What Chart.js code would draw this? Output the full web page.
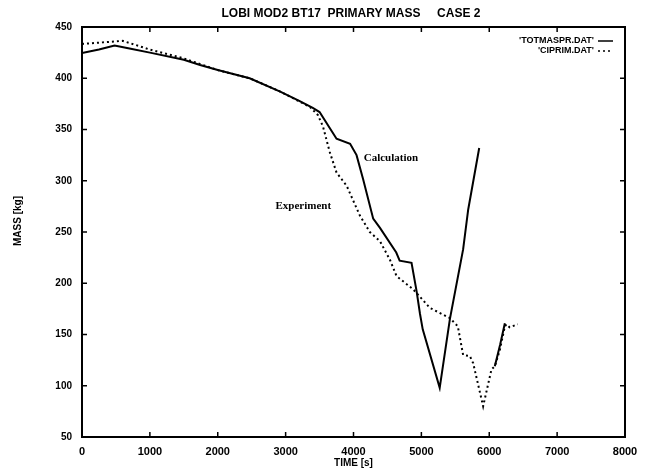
<!DOCTYPE html>
<html>
<head>
<meta charset="utf-8">
<title>LOBI MOD2 BT17 primary mass</title>
<script src="https://cdn.jsdelivr.net/npm/chart.js@4"></script>
<style>
  html, body { margin: 0; padding: 0; background: #fff; }
  #wrap { width: 652px; height: 471px; position: relative; }
</style>
</head>
<body>
<div id="wrap"><canvas id="massChart"></canvas></div>
<script>
/* Data */
const calcTime = [0, 250, 480, 700, 1000, 1500, 1740, 2000, 2470, 2920, 3200, 3400, 3500,
  3750, 3950, 4045, 4140, 4290, 4390, 4630, 4680, 4855, 4930, 4980, 5020, 5270, 5420,
  5615, 5690, 5852, 5950, 6082, 6160, 6230];
const calcMass = [424.5, 428, 432, 429, 425, 418, 413, 408, 400, 387, 378, 371, 367,
  341, 336, 325, 302, 263, 254, 230, 222, 220, 192, 170, 155, 98, 165,
  233, 272, 332, null, 119, 140, 161];

const expTime = [0, 300, 600, 1000, 1470, 2000, 2470, 2920, 3360, 3476, 3550, 3650, 3750,
  3900, 4094, 4240, 4390, 4536, 4634, 4880, 5125, 5420, 5537, 5615, 5714, 5763, 5910,
  6033, 6082, 6156, 6230, 6255, 6300, 6420];
const expMass = [433.5, 435, 436.5, 428, 420, 408, 400, 387, 372, 364, 353, 328, 308,
  295, 266, 250, 241, 223, 207, 194, 176, 166, 158, 130, 129, 122, 80,
  116, 119, 135, 158, 160, 157, 160];

const seriesNames = ["'TOTMASPR.DAT'", "'CIPRIM.DAT'"];
const xTicks = [0, 1000, 2000, 3000, 4000, 5000, 6000, 7000, 8000];
const yTicks = [50, 100, 150, 200, 250, 300, 350, 400, 450];
const chartTitle = "LOBI MOD2 BT17  PRIMARY MASS     CASE 2";
const xTitle = "TIME [s]";
const yTitle = "MASS [kg]";
const notes = [
  { text: "Calculation", x: 4150, y: 322 },
  { text: "Experiment", x: 2850, y: 275 },
];
/* Data */

const toPoints = (xs, ys) => xs.map((x, i) => ({ x: x, y: ys[i] }));

/**
 * Draws the gnuplot-like frame, inward ticks, title, legend and notes.
 */
const framePlugin = {
  id: "frame",
  afterDraw(chart) {
    const ctx = chart.ctx;
    const area = chart.chartArea;
    const xs = chart.scales.x;
    const ys = chart.scales.y;

    ctx.save();
    ctx.strokeStyle = "#000";
    ctx.lineWidth = 2;
    ctx.strokeRect(area.left, area.top, area.right - area.left, area.bottom - area.top);

    // inward ticks on all four sides
    ctx.lineWidth = 1.5;
    ctx.beginPath();
    xTicks.forEach((v) => {
      const px = xs.getPixelForValue(v);
      ctx.moveTo(px, area.bottom);
      ctx.lineTo(px, area.bottom - 5);
      ctx.moveTo(px, area.top);
      ctx.lineTo(px, area.top + 5);
    });
    yTicks.forEach((v) => {
      const py = ys.getPixelForValue(v);
      ctx.moveTo(area.left, py);
      ctx.lineTo(area.left + 5, py);
      ctx.moveTo(area.right, py);
      ctx.lineTo(area.right - 5, py);
    });
    ctx.stroke();

    // title
    ctx.fillStyle = "#000";
    ctx.font = "bold 12px 'Liberation Sans'";
    ctx.textAlign = "center";
    ctx.textBaseline = "middle";
    ctx.fillText(chartTitle, 351, 14);

    // axis titles
    ctx.font = "bold 10px 'Liberation Sans'";
    ctx.fillText(xTitle, (area.left + area.right) / 2, 463);
    ctx.save();
    ctx.translate(18, 221);
    ctx.rotate(-Math.PI / 2);
    ctx.fillText(yTitle, 0, 0);
    ctx.restore();

    // legend, top right inside the frame
    ctx.font = "bold 9px 'Liberation Sans'";
    ctx.textAlign = "right";
    chart.data.datasets.forEach((ds, i) => {
      const ly = 41 + i * 10;
      ctx.fillText(ds.label, 594, ly);
      ctx.beginPath();
      ctx.lineWidth = 1.5;
      ctx.setLineDash(ds.borderDash || []);
      ctx.moveTo(598, ly);
      ctx.lineTo(613, ly);
      ctx.stroke();
    });
    ctx.setLineDash([]);

    // curve notes
    ctx.font = "bold 11px 'Liberation Serif'";
    ctx.textAlign = "left";
    notes.forEach((n) => {
      ctx.fillText(n.text, xs.getPixelForValue(n.x), ys.getPixelForValue(n.y));
    });
    ctx.restore();
  },
};

const canvas = document.getElementById("massChart");

new Chart(canvas, {
  type: "line",
  data: {
    datasets: [
      {
        label: seriesNames[0],
        data: toPoints(calcTime, calcMass),
        borderColor: "#000",
        borderWidth: 2,
        pointRadius: 0,
        tension: 0,
        spanGaps: false,
      },
      {
        label: seriesNames[1],
        data: toPoints(expTime, expMass),
        borderColor: "#000",
        borderWidth: 2,
        borderDash: [2, 3],
        pointRadius: 0,
        tension: 0,
      },
    ],
  },
  options: {
    responsive: true,
    maintainAspectRatio: false,
    animation: false,
    layout: { padding: { top: 27, right: 27, left: 0, bottom: 0 } },
    plugins: {
      legend: { display: false },
      title: { display: false },
      tooltip: { enabled: false },
    },
    scales: {
      x: {
        type: "linear",
        min: 0,
        max: 8000,
        afterBuildTicks: (scale) => {
          scale.ticks = xTicks.map((v) => ({ value: v }));
        },
        afterFit: (scale) => {
          scale.height = 34;
        },
        grid: { display: false, drawTicks: false },
        border: { display: false },
        ticks: {
          color: "#000",
          font: { family: "Liberation Sans", size: 11, weight: "bold" },
          padding: 8,
          maxRotation: 0,
          callback: (v) => String(v),
        },
      },
      y: {
        type: "linear",
        min: 50,
        max: 450,
        afterBuildTicks: (scale) => {
          scale.ticks = yTicks.map((v) => ({ value: v }));
        },
        afterFit: (scale) => {
          scale.width = 82;
        },
        grid: { display: false, drawTicks: false },
        border: { display: false },
        ticks: {
          color: "#000",
          font: { family: "Liberation Sans", size: 10, weight: "bold" },
          padding: 10,
          callback: (v) => String(v),
        },
      },
    },
  },
  plugins: [framePlugin],
});
</script>
</body>
</html>
